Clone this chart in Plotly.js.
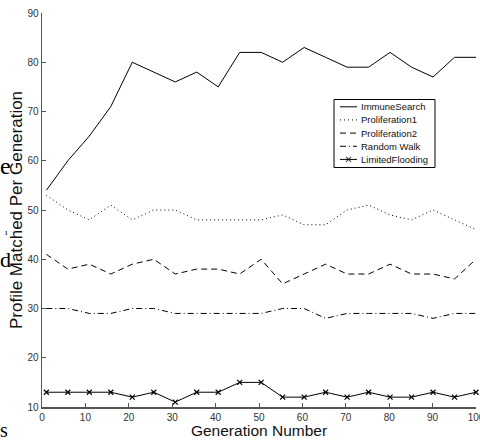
<!DOCTYPE html>
<html>
<head>
<meta charset="utf-8">
<script src="https://cdn.plot.ly/plotly-3.0.1.min.js"></script>
<style>html,body{margin:0;padding:0;background:#fff;}#chart{width:480px;height:441px;}</style>
</head>
<body>
<div id="chart"></div>
<script>
const generations = [1, 5.95, 10.9, 15.85, 20.8, 25.75, 30.7, 35.65, 40.6, 45.55, 50.5, 55.45, 60.4, 65.35, 70.3, 75.25, 80.2, 85.15, 90.1, 95.05, 100];
const immuneSearch   = [54, 60, 65, 71, 80, 78, 76, 78, 75, 82, 82, 80, 83, 81, 79, 79, 82, 79, 77, 81, 81];
const proliferation1 = [53, 50, 48, 51, 48, 50, 50, 48, 48, 48, 48, 49, 47, 47, 50, 51, 49, 48, 50, 48, 46];
const proliferation2 = [41, 38, 39, 37, 39, 40, 37, 38, 38, 37, 40, 35, 37, 39, 37, 37, 39, 37, 37, 36, 40];
const randomWalk     = [30, 30, 29, 29, 30, 30, 29, 29, 29, 29, 29, 30, 30, 28, 29, 29, 29, 29, 28, 29, 29];
const limitedFlooding= [13, 13, 13, 13, 12, 13, 11, 13, 13, 15, 15, 12, 12, 13, 12, 13, 12, 12, 13, 12, 13];
const seriesNames = ['ImmuneSearch', 'Proliferation1', 'Proliferation2', 'Random Walk', 'LimitedFlooding'];
const xTicks = [0, 10, 20, 30, 40, 50, 60, 70, 80, 90, 100];
const yTicks = [10, 20, 30, 40, 50, 60, 70, 80, 90];

const seriesData = [immuneSearch, proliferation1, proliferation2, randomWalk, limitedFlooding];
const dashes = ['solid', '1px,3px', '6px,4px', '6px,3px,1px,3px', 'solid'];
const markerStyle = {symbol: 'x-thin', size: 5, color: '#000', line: {color: '#000', width: 1.2}};

const traces = seriesData.map((ys, i) => {
  const t = {
    x: generations, y: ys, name: seriesNames[i], type: 'scatter',
    mode: i === 4 ? 'lines+markers' : 'lines',
    line: {color: '#000', width: 1, dash: dashes[i]},
    showlegend: false, cliponaxis: false
  };
  if (i === 4) t.marker = markerStyle;
  return t;
});

// Hand-built legend (Plotly's own legend rows are too tall for this compact MATLAB box).
// Overlay axes map 1:1 onto page pixels so the legend can be laid out in pixels.
const plotLeft = 42, plotRight = 476, plotTop = 13, plotBottom = 407;
const legendBox = {x0: 334, x1: 435, y0: 99.5, y1: 167.5};
const legendRowY0 = 106.8, legendRowStep = 13.15;
const sampleX0 = 340, sampleX1 = 357, textX = 360;

seriesNames.forEach((name, i) => {
  const yy = legendRowY0 + i * legendRowStep;
  const t = {
    x: [sampleX0, (sampleX0 + sampleX1) / 2, sampleX1], y: [yy, yy, yy],
    xaxis: 'x2', yaxis: 'y2', type: 'scatter',
    mode: i === 4 ? 'lines+markers' : 'lines',
    line: {color: '#000', width: 1, dash: dashes[i]},
    showlegend: false, hoverinfo: 'skip'
  };
  if (i === 4) t.marker = Object.assign({}, markerStyle, {size: [0, 5, 0]});
  traces.push(t);
});

const px2paperX = px => (px - plotLeft) / (plotRight - plotLeft);
const px2paperY = py => (plotBottom - py) / (plotBottom - plotTop);

const serif = 'Liberation Serif, DejaVu Serif, serif';
const annotations = seriesNames.map((name, i) => ({
  text: name, xref: 'paper', yref: 'paper',
  x: px2paperX(textX), y: px2paperY(legendRowY0 + i * legendRowStep),
  xanchor: 'left', yanchor: 'middle', showarrow: false, borderpad: 0,
  font: {size: 9.5, color: '#111'}
}));
// fragments of surrounding page text visible at the left edge
annotations.push(
  {text: 'e', xref: 'paper', yref: 'paper', x: px2paperX(-1), y: px2paperY(166), xanchor: 'left', yanchor: 'middle', showarrow: false, borderpad: 0, font: {family: serif, size: 24, color: '#000'}},
  {text: 'd', xref: 'paper', yref: 'paper', x: px2paperX(-1), y: px2paperY(259), xanchor: 'left', yanchor: 'middle', showarrow: false, borderpad: 0, font: {family: serif, size: 22, color: '#000'}},
  {text: 'ı', xref: 'paper', yref: 'paper', x: px2paperX(4), y: px2paperY(232), xanchor: 'left', yanchor: 'middle', showarrow: false, borderpad: 0, font: {family: serif, size: 9, color: '#000'}},
  {text: 's', xref: 'paper', yref: 'paper', x: px2paperX(-1), y: px2paperY(430), xanchor: 'left', yanchor: 'middle', showarrow: false, borderpad: 0, font: {family: serif, size: 20, color: '#000'}}
);

const layout = {
  width: 480, height: 441,
  margin: {l: plotLeft, r: 480 - plotRight, t: plotTop, b: 441 - plotBottom},
  paper_bgcolor: '#fff', plot_bgcolor: '#fff',
  font: {family: 'Liberation Sans, Arial, sans-serif', color: '#222', size: 10},
  showlegend: false,
  xaxis: {
    range: [0, 100], tickvals: xTicks, ticktext: xTicks.map(String),
    ticks: 'inside', ticklen: 4, tickcolor: '#555',
    showline: true, linecolor: '#555', linewidth: 1.5,
    showgrid: false, zeroline: false, mirror: false,
    ticklabeloverflow: 'allow',
    tickfont: {size: 10, color: '#333'},
    title: {text: 'Generation Number', font: {size: 15.5, color: '#111'}, standoff: 2}
  },
  yaxis: {
    range: [10, 90], tickvals: yTicks, ticktext: yTicks.map(String),
    ticks: 'inside', ticklen: 4, tickcolor: '#555',
    showline: true, linecolor: '#555', linewidth: 1.5,
    showgrid: false, zeroline: false, mirror: false,
    tickfont: {size: 10, color: '#333'},
    title: {text: 'Profile Matched Per Generation', font: {size: 17, color: '#111'}, standoff: 0}
  },
  xaxis2: {overlaying: 'x', range: [plotLeft, plotRight], visible: false, fixedrange: true},
  yaxis2: {overlaying: 'y', range: [plotBottom, plotTop], visible: false, fixedrange: true},
  shapes: [{
    type: 'rect', xref: 'paper', yref: 'paper',
    x0: px2paperX(legendBox.x0), x1: px2paperX(legendBox.x1),
    y0: px2paperY(legendBox.y0), y1: px2paperY(legendBox.y1),
    line: {color: '#000', width: 1}, fillcolor: '#fff', layer: 'below'
  }],
  annotations: annotations
};

Plotly.newPlot('chart', traces, layout, {staticPlot: true, displayModeBar: false});
</script>
</body>
</html>
